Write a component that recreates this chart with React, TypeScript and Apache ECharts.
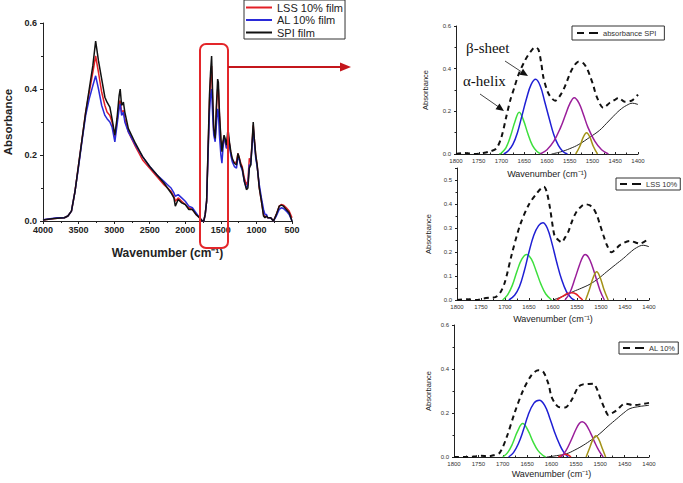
import React, { useEffect, useRef } from "react";
import * as echarts from "echarts";

// ---------- Main FTIR spectrum (left) ----------
const mainWavenumbers = [
  4000, 3900, 3800, 3700, 3650, 3600, 3550, 3500, 3450, 3400, 3350, 3300, 3260, 3220, 3175, 3130, 3100, 3060, 3030, 2990,
  2960, 2930, 2915, 2895, 2870, 2850, 2800, 2700, 2600, 2500, 2400, 2300, 2250, 2200, 2160, 2140, 2100, 2050, 2000, 1950,
  1900, 1850, 1800, 1760, 1740, 1720, 1700, 1680, 1660, 1645, 1630, 1615, 1600, 1580, 1560, 1545, 1535, 1520, 1500, 1485,
  1470, 1455, 1440, 1420, 1400, 1380, 1360, 1340, 1310, 1280, 1260, 1240, 1220, 1200, 1170, 1140, 1120, 1100, 1080, 1060,
  1045, 1030, 1010, 990, 960, 930, 900, 880, 860, 840, 800, 760, 720, 680, 650, 620, 580, 540, 500,
];

const lssFilm = [
  0.003, 0.006, 0.008, 0.01, 0.015, 0.03, 0.09, 0.17, 0.25, 0.33, 0.39, 0.45, 0.5, 0.45, 0.39, 0.35, 0.33, 0.32, 0.3, 0.255,
  0.3, 0.355, 0.365, 0.33, 0.335, 0.31, 0.27, 0.225, 0.185, 0.16, 0.135, 0.11, 0.1, 0.09, 0.075, 0.06, 0.07, 0.06, 0.05, 0.04,
  0.035, 0.02, 0.01, 0.0, 0.0, 0.02, 0.06, 0.21, 0.36, 0.43, 0.47, 0.36, 0.27, 0.25, 0.35, 0.4, 0.4, 0.32, 0.245, 0.22,
  0.24, 0.25, 0.24, 0.22, 0.265, 0.235, 0.205, 0.185, 0.175, 0.18, 0.205, 0.19, 0.175, 0.165, 0.13, 0.11, 0.12, 0.19, 0.18, 0.24,
  0.29, 0.25, 0.2, 0.17, 0.1, 0.06, 0.02, 0.012, 0.015, 0.01, 0.01, 0.0, 0.02, 0.045, 0.05, 0.048, 0.04, 0.03, 0.01,
];

const alFilm = [
  0.004, 0.007, 0.01, 0.01, 0.015, 0.03, 0.09, 0.165, 0.245, 0.32, 0.37, 0.41, 0.44, 0.4, 0.35, 0.32, 0.31, 0.3, 0.285, 0.24,
  0.29, 0.34, 0.355, 0.32, 0.33, 0.3, 0.27, 0.23, 0.195, 0.165, 0.14, 0.12, 0.11, 0.1, 0.085, 0.075, 0.08, 0.07, 0.06, 0.045,
  0.04, 0.025, 0.01, 0.0, 0.0, 0.02, 0.06, 0.2, 0.33, 0.38, 0.4, 0.32, 0.26, 0.24, 0.3, 0.34, 0.33, 0.26, 0.2, 0.175,
  0.22, 0.25, 0.245, 0.22, 0.26, 0.23, 0.2, 0.18, 0.165, 0.16, 0.195, 0.185, 0.165, 0.155, 0.12, 0.1, 0.11, 0.17, 0.17, 0.23,
  0.28, 0.24, 0.19, 0.165, 0.11, 0.07, 0.035, 0.02, 0.02, 0.01, 0.01, 0.0, 0.015, 0.035, 0.04, 0.038, 0.03, 0.02, 0.0,
];

const spiFilm = [
  0.003, 0.006, 0.008, 0.01, 0.015, 0.03, 0.09, 0.17, 0.25, 0.33, 0.4, 0.47, 0.545, 0.485, 0.43, 0.375, 0.36, 0.345, 0.31, 0.26,
  0.31, 0.38, 0.4, 0.35, 0.36, 0.33, 0.28, 0.235, 0.195, 0.165, 0.14, 0.115, 0.1, 0.085, 0.07, 0.045, 0.065, 0.055, 0.05, 0.035,
  0.035, 0.02, 0.01, 0.0, 0.0, 0.02, 0.06, 0.22, 0.38, 0.45, 0.5, 0.38, 0.28, 0.25, 0.36, 0.43, 0.42, 0.33, 0.25, 0.21,
  0.24, 0.26, 0.25, 0.23, 0.28, 0.24, 0.21, 0.19, 0.175, 0.17, 0.205, 0.19, 0.17, 0.16, 0.12, 0.095, 0.1, 0.16, 0.17, 0.24,
  0.3, 0.25, 0.2, 0.17, 0.1, 0.06, 0.015, 0.01, 0.015, 0.01, 0.01, 0.0, 0.02, 0.045, 0.048, 0.045, 0.035, 0.025, 0.0,
];

const mainLegendNames = ["LSS 10% film", "AL 10% film", "SPI film"];

// ---------- Amide I/II deconvolution panels (right), [wavenumber, absorbance] ----------
// Panel 1: SPI
const spiDash = [
  [1800, 0], [1780, 0.005], [1760, 0], [1740, 0.005], [1725, 0.012], [1711, 0.027], [1700, 0.08], [1690, 0.17], [1681, 0.25],
  [1672, 0.31], [1663, 0.37], [1648, 0.44], [1636, 0.48], [1626, 0.5], [1619, 0.49], [1613, 0.43], [1608, 0.36], [1600, 0.3],
  [1593, 0.27], [1582, 0.25], [1568, 0.285], [1558, 0.33], [1549, 0.38], [1540, 0.415], [1531, 0.433], [1520, 0.425],
  [1512, 0.4], [1505, 0.363], [1498, 0.32], [1491, 0.27], [1476, 0.216], [1462, 0.24], [1450, 0.255], [1443, 0.263],
  [1429, 0.245], [1414, 0.25], [1400, 0.278],
];
const spiGreen = [
  [1705, 0], [1700, 0.005], [1690, 0.03], [1680, 0.085], [1670, 0.155], [1661, 0.196], [1652, 0.16], [1642, 0.095],
  [1632, 0.04], [1622, 0.012], [1612, 0],
];
const spiBlue = [
  [1695, 0], [1685, 0.015], [1675, 0.045], [1665, 0.1], [1655, 0.18], [1645, 0.26], [1635, 0.325], [1625, 0.35], [1615, 0.32],
  [1605, 0.245], [1595, 0.165], [1585, 0.09], [1575, 0.04], [1565, 0.012], [1555, 0],
];
const spiPurple = [
  [1615, 0], [1600, 0.02], [1585, 0.06], [1570, 0.125], [1560, 0.18], [1550, 0.235], [1540, 0.264], [1530, 0.24],
  [1520, 0.185], [1510, 0.125], [1495, 0.06], [1480, 0.02], [1465, 0],
];
const spiOlive = [[1537, 0], [1528, 0.035], [1520, 0.08], [1513, 0.1], [1506, 0.08], [1498, 0.035], [1489, 0]];
const spiBase = [
  [1590, 0], [1570, 0.01], [1550, 0.025], [1530, 0.045], [1505, 0.08], [1485, 0.11], [1469, 0.144], [1455, 0.175],
  [1440, 0.206], [1425, 0.228], [1412, 0.238], [1400, 0.232],
];

// Panel 2: LSS 10%
const lssDash = [
  [1800, 0], [1780, 0.003], [1760, 0], [1745, 0.006], [1730, 0.01], [1720, 0.012], [1710, 0.03], [1700, 0.076], [1686, 0.19],
  [1669, 0.31], [1651, 0.395], [1634, 0.444], [1619, 0.472], [1613, 0.45], [1606, 0.38], [1600, 0.3], [1596, 0.264],
  [1589, 0.25], [1582, 0.24], [1575, 0.26], [1568, 0.285], [1560, 0.33], [1551, 0.368], [1540, 0.392], [1533, 0.399],
  [1524, 0.395], [1516, 0.382], [1508, 0.35], [1502, 0.313], [1495, 0.27], [1488, 0.23], [1478, 0.199], [1468, 0.215],
  [1460, 0.23], [1440, 0.246], [1419, 0.235], [1400, 0.257],
];
const lssGreen = [
  [1705, 0], [1695, 0.02], [1685, 0.06], [1675, 0.12], [1665, 0.17], [1655, 0.19], [1645, 0.17], [1635, 0.12], [1625, 0.065],
  [1615, 0.025], [1603, 0],
];
const lssBlue = [
  [1692, 0], [1680, 0.02], [1670, 0.055], [1660, 0.12], [1650, 0.2], [1640, 0.27], [1630, 0.31], [1621, 0.322], [1612, 0.3],
  [1602, 0.235], [1592, 0.155], [1582, 0.085], [1572, 0.035], [1562, 0.008], [1555, 0],
];
const lssRed = [[1592, 0], [1580, 0.015], [1570, 0.027], [1561, 0.03], [1552, 0.025], [1545, 0.012], [1538, 0]];
const lssPurple = [
  [1575, 0], [1565, 0.03], [1555, 0.085], [1545, 0.145], [1538, 0.18], [1533, 0.19], [1526, 0.178], [1518, 0.14], [1510, 0.09],
  [1502, 0.04], [1493, 0],
];
const lssOlive = [[1532, 0], [1524, 0.045], [1516, 0.095], [1509, 0.118], [1502, 0.095], [1494, 0.045], [1485, 0]];
const lssBase = [
  [1600, 0], [1580, 0.015], [1558, 0.035], [1540, 0.05], [1523, 0.066], [1505, 0.09], [1488, 0.118], [1470, 0.147],
  [1453, 0.174], [1440, 0.197], [1426, 0.218], [1412, 0.228], [1400, 0.222],
];

// Panel 3: AL 10%
const alDash = [
  [1800, 0], [1770, 0], [1755, 0.004], [1745, 0.006], [1730, 0.003], [1719, 0.008], [1706, 0.02], [1692, 0.09], [1675, 0.205],
  [1658, 0.304], [1641, 0.372], [1627, 0.394], [1618, 0.39], [1613, 0.372], [1606, 0.33], [1600, 0.274], [1593, 0.245],
  [1586, 0.228], [1572, 0.225], [1559, 0.258], [1545, 0.319], [1535, 0.33], [1528, 0.331], [1514, 0.333], [1507, 0.31],
  [1501, 0.274], [1490, 0.215], [1483, 0.19], [1475, 0.2], [1466, 0.213], [1449, 0.243], [1432, 0.236], [1415, 0.24],
  [1400, 0.246],
];
const alGreen = [
  [1700, 0], [1690, 0.02], [1680, 0.06], [1670, 0.115], [1659, 0.152], [1648, 0.12], [1638, 0.07], [1628, 0.03],
  [1618, 0.008], [1612, 0],
];
const alBlue = [
  [1688, 0], [1678, 0.02], [1668, 0.06], [1658, 0.12], [1648, 0.19], [1636, 0.245], [1625, 0.258], [1614, 0.235], [1604, 0.18],
  [1594, 0.115], [1584, 0.06], [1575, 0.022], [1566, 0],
];
const alRed = [[1586, 0], [1578, 0.008], [1572, 0.012], [1566, 0.009], [1560, 0]];
const alPurple = [
  [1580, 0], [1570, 0.03], [1560, 0.075], [1550, 0.125], [1543, 0.152], [1537, 0.16], [1530, 0.15], [1520, 0.11], [1512, 0.07],
  [1503, 0.03], [1494, 0],
];
const alOlive = [[1529, 0], [1522, 0.04], [1515, 0.08], [1509, 0.097], [1503, 0.08], [1496, 0.04], [1489, 0]];
const alBase = [
  [1610, 0], [1590, 0.006], [1569, 0.015], [1552, 0.032], [1535, 0.053], [1518, 0.078], [1501, 0.106], [1484, 0.14],
  [1466, 0.174], [1452, 0.2], [1439, 0.22], [1418, 0.23], [1400, 0.235],
];

const panelLegendNames = ["absorbance SPI", "LSS 10%", "AL 10%"];

const SANS = '"Liberation Sans", Arial, Helvetica, sans-serif';
const SERIF = '"Liberation Serif", "Times New Roman", serif';

const C_RED = "#e31f26";
const C_BLUE = "#2a2ad8";
const C_BLACK = "#111111";
const C_GREEN = "#3ddf3d";
const C_PBLUE = "#1f1fd4";
const C_PURPLE = "#9a1e9a";
const C_OLIVE = "#a39218";

const DASH_ICON = "path://M0,0H7V2H0ZM12,0H21V2H12Z";

function miniX(gridIndex: number, nameGap: number) {
  return {
    type: "value",
    gridIndex,
    min: 1400,
    max: 1800,
    interval: 50,
    inverse: true,
    name: "Wavenumber (cm⁻¹)",
    nameLocation: "middle",
    nameGap,
    nameTextStyle: { fontSize: 9, color: "#222", fontFamily: SANS },
    axisLine: { show: true, onZero: false, lineStyle: { color: "#222", width: 1 } },
    axisTick: { show: true, inside: true, length: 2, lineStyle: { color: "#222" } },
    minorTick: { show: true, splitNumber: 2, length: 1.5, lineStyle: { color: "#222" } },
    axisLabel: { fontSize: 6, color: "#333", margin: 4, fontFamily: SANS, formatter: (v: number) => String(v) },
    splitLine: { show: false },
  };
}

function miniY(gridIndex: number, max: number, interval: number, nameGap: number) {
  return {
    type: "value",
    gridIndex,
    min: 0,
    max,
    interval,
    name: "Absorbance",
    nameLocation: "middle",
    nameGap,
    nameTextStyle: { fontSize: 7.5, color: "#222", fontFamily: SANS },
    axisLine: { show: true, onZero: false, lineStyle: { color: "#222", width: 1 } },
    axisTick: { show: true, length: 2, lineStyle: { color: "#222" } },
    minorTick: { show: true, splitNumber: 2, length: 1.5, lineStyle: { color: "#222" } },
    axisLabel: {
      fontSize: 6,
      color: "#333",
      margin: 5,
      fontFamily: SANS,
      formatter: (v: number) => (Math.abs(v * 10 - Math.round(v * 10)) < 1e-6 ? v.toFixed(1) : ""),
    },
    splitLine: { show: false },
  };
}

function peak(idx: number, data: number[][], color: string, width = 1.5) {
  return {
    type: "line",
    xAxisIndex: idx,
    yAxisIndex: idx,
    data,
    smooth: 0.4,
    symbol: "none",
    lineStyle: { color, width },
    silent: true,
    z: 3,
  };
}

function dashed(idx: number, name: string, data: number[][]) {
  return {
    type: "line",
    name,
    xAxisIndex: idx,
    yAxisIndex: idx,
    data,
    smooth: 0.3,
    symbol: "none",
    lineStyle: { color: C_BLACK, width: 2, type: [5, 4] },
    itemStyle: { color: C_BLACK },
    z: 4,
  };
}

function miniLegend(name: string, left: number, top: number, padding: number[]) {
  return {
    data: [name],
    left,
    top,
    orient: "horizontal",
    icon: DASH_ICON,
    itemWidth: 21,
    itemHeight: 2,
    padding,
    borderColor: "#333",
    borderWidth: 1,
    backgroundColor: "#fff",
    textStyle: { fontSize: 7.5, color: "#333", fontFamily: SANS },
    selectedMode: false,
  };
}

export default function App() {
  const ref = useRef<HTMLDivElement>(null);

  useEffect(() => {
    if (!ref.current) return;
    const chart = echarts.init(ref.current, null, { renderer: "svg" });

    const pairs = (vals: number[]) => mainWavenumbers.map((w, i) => [w, vals[i]]);

    const option: any = {
      animation: false,
      backgroundColor: "#ffffff",
      textStyle: { fontFamily: SANS },
      grid: [
        { left: 43, top: 23, width: 249, height: 198 },
        { left: 456, top: 26, width: 182, height: 128 },
        { left: 457, top: 168, width: 192, height: 132 },
        { left: 454, top: 325, width: 195, height: 132 },
      ],
      xAxis: [
        {
          type: "value",
          gridIndex: 0,
          min: 500,
          max: 4000,
          interval: 500,
          inverse: true,
          name: "Wavenumber (cm⁻¹)",
          nameLocation: "middle",
          nameGap: 26,
          nameTextStyle: { fontSize: 12, fontWeight: "bold", color: "#222", fontFamily: SANS },
          axisLine: { show: true, onZero: false, lineStyle: { color: "#222", width: 1 } },
          axisTick: { show: true, length: 3, lineStyle: { color: "#222" } },
          minorTick: { show: true, splitNumber: 2, length: 2, lineStyle: { color: "#222" } },
          axisLabel: {
            fontSize: 9,
            fontWeight: "bold",
            color: "#222",
            margin: 4,
            fontFamily: SANS,
            formatter: (v: number) => String(v),
          },
          splitLine: { show: false },
        },
        miniX(1, 15),
        miniX(2, 14),
        miniX(3, 12),
      ],
      yAxis: [
        {
          type: "value",
          gridIndex: 0,
          min: 0,
          max: 0.6,
          interval: 0.2,
          name: "Absorbance",
          nameLocation: "middle",
          nameGap: 29,
          nameTextStyle: { fontSize: 11.5, fontWeight: "bold", color: "#222", fontFamily: SANS },
          axisLine: { show: true, onZero: false, lineStyle: { color: "#222", width: 1 } },
          axisTick: { show: true, length: 3, lineStyle: { color: "#222" } },
          minorTick: { show: true, splitNumber: 2, length: 2, lineStyle: { color: "#222" } },
          axisLabel: {
            fontSize: 9,
            fontWeight: "bold",
            color: "#222",
            margin: 6,
            fontFamily: SANS,
            formatter: (v: number) => v.toFixed(1),
          },
          splitLine: { show: false },
        },
        miniY(1, 0.6, 0.2, 27),
        miniY(2, 0.55, 0.1, 25),
        miniY(3, 0.6, 0.2, 22),
      ],
      legend: [
        {
          data: mainLegendNames,
          left: 244,
          top: 0,
          orient: "vertical",
          icon: "rect",
          itemWidth: 26,
          itemHeight: 2,
          itemGap: 1.5,
          padding: [2, 2, 1, 2],
          borderColor: "#333",
          borderWidth: 1,
          backgroundColor: "#fff",
          textStyle: { fontSize: 11, color: "#222", fontFamily: SANS },
          selectedMode: false,
        },
        miniLegend(panelLegendNames[0], 572, 26, [3, 8, 3, 5]),
        miniLegend(panelLegendNames[1], 616, 178, [2, 3, 2, 4]),
        miniLegend(panelLegendNames[2], 619, 342, [2, 3, 2, 4]),
      ],
      series: [
        {
          type: "line",
          name: mainLegendNames[0],
          xAxisIndex: 0,
          yAxisIndex: 0,
          data: pairs(lssFilm),
          symbol: "none",
          lineStyle: { color: C_RED, width: 1.5 },
          itemStyle: { color: C_RED },
        },
        {
          type: "line",
          name: mainLegendNames[1],
          xAxisIndex: 0,
          yAxisIndex: 0,
          data: pairs(alFilm),
          symbol: "none",
          lineStyle: { color: C_BLUE, width: 1.5 },
          itemStyle: { color: C_BLUE },
        },
        {
          type: "line",
          name: mainLegendNames[2],
          xAxisIndex: 0,
          yAxisIndex: 0,
          data: pairs(spiFilm),
          symbol: "none",
          lineStyle: { color: C_BLACK, width: 1.5 },
          itemStyle: { color: C_BLACK },
        },
        // panel 1 (SPI)
        peak(1, spiBase, "#222", 1),
        peak(1, spiGreen, C_GREEN),
        peak(1, spiBlue, C_PBLUE),
        peak(1, spiPurple, C_PURPLE),
        peak(1, spiOlive, C_OLIVE),
        dashed(1, panelLegendNames[0], spiDash),
        // panel 2 (LSS)
        peak(2, lssBase, "#222", 1),
        peak(2, lssGreen, C_GREEN),
        peak(2, lssBlue, C_PBLUE),
        peak(2, lssRed, C_RED),
        peak(2, lssPurple, C_PURPLE),
        peak(2, lssOlive, C_OLIVE),
        dashed(2, panelLegendNames[1], lssDash),
        // panel 3 (AL)
        peak(3, alBase, "#222", 1),
        peak(3, alGreen, C_GREEN),
        peak(3, alBlue, C_PBLUE),
        peak(3, alRed, C_RED),
        peak(3, alPurple, C_PURPLE),
        peak(3, alOlive, C_OLIVE),
        dashed(3, panelLegendNames[2], alDash),
      ],
      graphic: [
        {
          type: "rect",
          shape: { x: 200, y: 44, width: 28, height: 204, r: 6 },
          style: { fill: "none", stroke: "#e3262a", lineWidth: 2 },
          z: 100,
        },
        {
          type: "line",
          shape: { x1: 228, y1: 67, x2: 342, y2: 67 },
          style: { stroke: "#c4161c", lineWidth: 2 },
          z: 100,
        },
        {
          type: "polygon",
          shape: { points: [[351, 67], [340, 62.5], [340, 71.5]] },
          style: { fill: "#c4161c" },
          z: 100,
        },
        {
          type: "text",
          x: 466,
          y: 48,
          style: { text: "β-sheet", fontSize: 15, fontFamily: SERIF, fill: "#111", verticalAlign: "middle" },
          z: 100,
        },
        {
          type: "text",
          x: 463,
          y: 81,
          style: { text: "α-helix", fontSize: 15, fontFamily: SERIF, fill: "#111", verticalAlign: "middle" },
          z: 100,
        },
        {
          type: "line",
          shape: { x1: 505, y1: 61, x2: 521, y2: 71.5 },
          style: { stroke: "#444", lineWidth: 1 },
          z: 100,
        },
        {
          type: "polygon",
          shape: { points: [[528, 76], [519.4, 74.8], [523, 68.8]] },
          style: { fill: "#111" },
          z: 100,
        },
        {
          type: "line",
          shape: { x1: 480, y1: 94, x2: 498, y2: 106.5 },
          style: { stroke: "#444", lineWidth: 1 },
          z: 100,
        },
        {
          type: "polygon",
          shape: { points: [[504, 111], [495.5, 109.3], [499.5, 103.5]] },
          style: { fill: "#111" },
          z: 100,
        },
      ],
    };

    chart.setOption(option);
    return () => chart.dispose();
  }, []);

  return (
    <div
      ref={ref}
      style={{ position: "absolute", left: 0, top: 0, width: 683, height: 483, background: "#fff" }}
    />
  );
}
